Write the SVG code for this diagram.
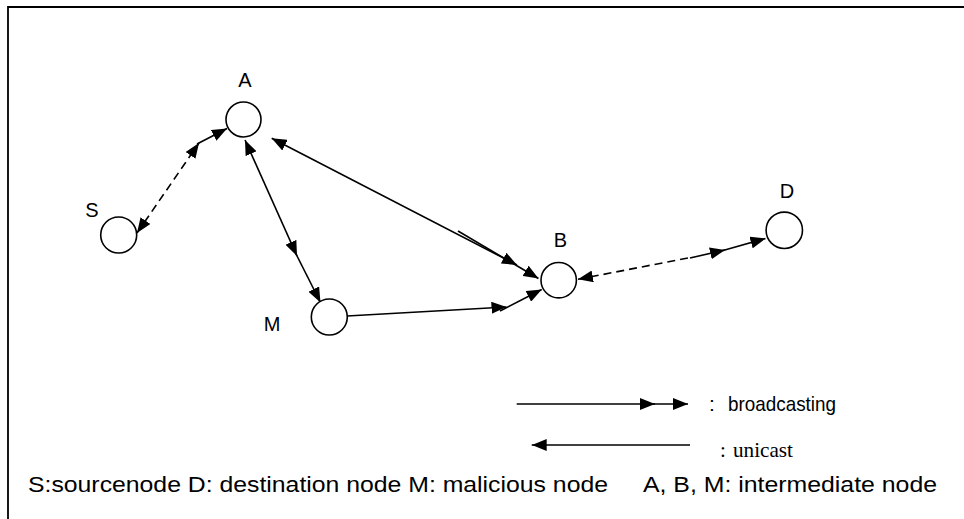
<svg xmlns="http://www.w3.org/2000/svg" width="964" height="519" viewBox="0 0 964 519">
<style>
.node{fill:#fff;stroke:#000;stroke-width:1.6}
.lbl{font-family:"Liberation Sans",Arial,sans-serif;font-size:20px;fill:#000;text-anchor:middle}
.ln{fill:none;stroke:#000;stroke-width:1.6}
.dash{stroke-dasharray:8,5}
.txt{font-family:"Liberation Sans",Arial,sans-serif;fill:#000}
.ser{font-family:"Liberation Serif","Times New Roman",serif;fill:#000}
</style>
<defs>
<marker id="ah" viewBox="0 0 15 12" refX="15" refY="6" markerWidth="15" markerHeight="12" markerUnits="userSpaceOnUse" orient="auto"><path d="M0,0 L15,6 L0,12 z" fill="#000"/></marker>
<marker id="ahs" viewBox="0 0 15 12" refX="15" refY="6" markerWidth="15" markerHeight="12" markerUnits="userSpaceOnUse" orient="auto-start-reverse"><path d="M0,0 L15,6 L0,12 z" fill="#000"/></marker>
</defs>
<rect width="964" height="519" fill="#fff"/>
<path d="M8,522 V7 H968" fill="none" stroke="#000" stroke-width="1.8"/>

<g id="connectors">
<!-- S - A -->
<path class="ln dash" d="M137,233 L199,143" marker-start="url(#ahs)" marker-end="url(#ah)"/>
<path class="ln" d="M197,144 L227,128.5" marker-end="url(#ah)"/>
<!-- A - M -->
<path class="ln" d="M245,140 L297,256" marker-start="url(#ahs)" marker-end="url(#ah)"/>
<path class="ln" d="M296,254 L320.5,302.5" marker-end="url(#ah)"/>
<!-- A - B -->
<path class="ln" d="M271.7,138.3 L517,265" marker-start="url(#ahs)" marker-end="url(#ah)"/>
<path class="ln" d="M458,231 L538.5,278.5" marker-end="url(#ah)"/>
<!-- M - B -->
<path class="ln" d="M347,316 L506.5,307" marker-end="url(#ah)"/>
<path class="ln" d="M500,311 L541.7,289.5" marker-end="url(#ah)"/>
<!-- B - D -->
<path class="ln dash" d="M578,279.3 L693,257" marker-start="url(#ahs)"/>
<path class="ln" d="M690,258 L725,250" marker-end="url(#ah)"/>
<path class="ln" d="M723,250.5 L765.5,238.5" marker-end="url(#ah)"/>
</g>

<g id="node-A"><circle class="node" cx="243.5" cy="119.5" r="17.5"/><text class="lbl" x="245" y="87">A</text></g>
<g id="node-S"><circle class="node" cx="118.7" cy="235" r="18"/><text class="lbl" x="92" y="217">S</text></g>
<g id="node-M"><circle class="node" cx="329.3" cy="317" r="18"/><text class="lbl" x="272" y="331">M</text></g>
<g id="node-B"><circle class="node" cx="558.7" cy="280.2" r="17.7"/><text class="lbl" x="560.5" y="247">B</text></g>
<g id="node-D"><circle class="node" cx="784.3" cy="230.3" r="18.2"/><text class="lbl" x="787" y="198">D</text></g>

<g id="legend">
<path class="ln" d="M516.7,404 L655,404" marker-end="url(#ah)"/>
<path class="ln" d="M653,404 L688,404" marker-end="url(#ah)"/>
<text class="txt" x="709" y="411" font-size="21">:</text>
<text class="txt" x="728" y="411" font-size="21" textLength="108" lengthAdjust="spacingAndGlyphs">broadcasting</text>
<path class="ln" d="M690,445 L531.7,445" marker-end="url(#ah)"/>
<text class="ser" x="720" y="457" font-size="21">:</text>
<text class="ser" x="733" y="457" font-size="21" textLength="60" lengthAdjust="spacingAndGlyphs">unicast</text>
</g>

<g id="caption">
<text class="txt" x="28" y="492" font-size="22" textLength="580" lengthAdjust="spacingAndGlyphs">S:sourcenode D: destination node M: malicious node</text>
<text class="txt" x="643" y="492" font-size="22" textLength="294" lengthAdjust="spacingAndGlyphs">A, B, M: intermediate node</text>
</g>
</svg>
